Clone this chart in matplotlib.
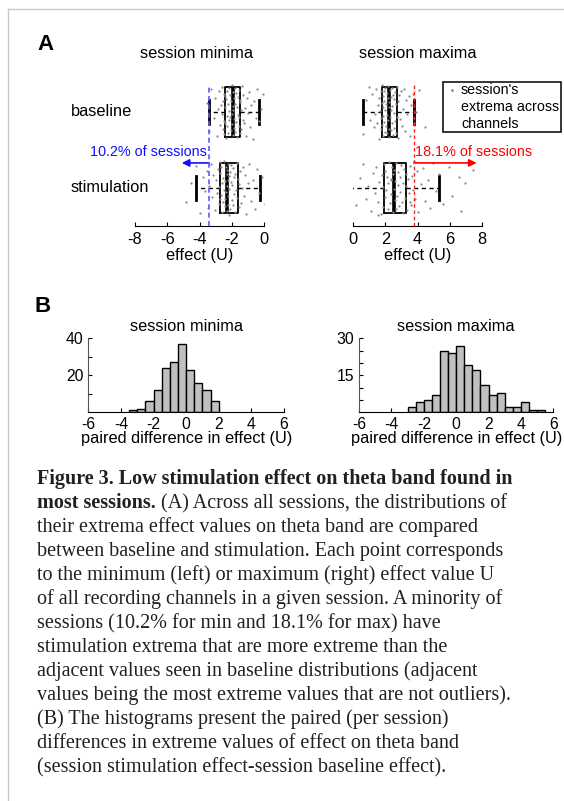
import matplotlib

matplotlib.use("Agg")
import matplotlib.pyplot as plt
from matplotlib.lines import Line2D
from matplotlib.patches import Rectangle

plt.rcParams["font.family"] = ["Liberation Sans", "DejaVu Sans"]
plt.rcParams["axes.unicode_minus"] = False

W, H = 564, 801

# ---- panel A: box summaries ----
groups = ["baseline", "stimulation"]
min_stats = {  # q1, median, q3, lower whisker, upper whisker
    "baseline": (-2.41, -1.93, -1.48, -3.40, -0.32),
    "stimulation": (-2.72, -2.27, -1.64, -4.21, -0.24),
}
max_stats = {
    "baseline": (1.80, 2.23, 2.71, 0.64, 3.78),
    "stimulation": (1.90, 2.57, 3.27, -0.16, 5.31),
}
min_cut, min_pct = -3.40, "10.2% of sessions"
max_cut, max_pct = 3.78, "18.1% of sessions"

# per-session extrema (subset of points read from the cloud)
min_base_x = [-3.56, -3.38, -3.31, -3.12, -3.04, -2.93, -2.88, -2.79, -2.74, -2.68, -2.63, -2.61, -2.57, -2.53, -2.51, -2.47, -2.45, -2.43, -2.42, -2.39,
              -2.37, -2.35, -2.31, -2.29, -2.27, -2.24, -2.21, -2.19, -2.17, -2.14, -2.12, -2.09, -2.07, -2.04, -2.01, -1.99, -1.97, -1.95, -1.94, -1.92,
              -1.90, -1.89, -1.86, -1.84, -1.81, -1.79, -1.77, -1.74, -1.71, -1.69, -1.66, -1.64, -1.61, -1.58, -1.56, -1.53, -1.51, -1.49, -1.47, -1.44,
              -1.41, -1.37, -1.33, -1.29, -1.24, -1.19, -1.13, -1.07, -0.99, -0.93, -0.86, -0.78, -0.69, -0.61, -0.52, -0.43, -0.33, -0.18, -0.04, 0.29]
min_stim_x = [-4.83, -4.52, -4.21, -3.97, -3.81, -3.66, -3.55, -3.47, -3.39, -3.31, -3.22, -3.14, -3.06, -2.99, -2.93, -2.87, -2.82, -2.78, -2.75, -2.73,
              -2.70, -2.67, -2.64, -2.61, -2.58, -2.55, -2.52, -2.49, -2.46, -2.44, -2.41, -2.39, -2.36, -2.34, -2.32, -2.30, -2.29, -2.28, -2.26, -2.25,
              -2.23, -2.21, -2.19, -2.17, -2.14, -2.12, -2.09, -2.06, -2.03, -2.00, -1.97, -1.94, -1.91, -1.88, -1.84, -1.81, -1.77, -1.73, -1.69, -1.66,
              -1.62, -1.58, -1.53, -1.48, -1.43, -1.37, -1.31, -1.24, -1.17, -1.09, -1.01, -0.92, -0.82, -0.71, -0.58, -0.44, -0.29, -0.12, 0.08, 0.41]
max_base_x = [-0.17, 0.64, 0.82, 0.97, 1.08, 1.19, 1.28, 1.36, 1.43, 1.49, 1.55, 1.60, 1.64, 1.68, 1.71, 1.74, 1.76, 1.78, 1.79, 1.81,
              1.83, 1.85, 1.87, 1.89, 1.91, 1.93, 1.95, 1.97, 1.99, 2.01, 2.03, 2.05, 2.08, 2.10, 2.12, 2.14, 2.17, 2.19, 2.21, 2.22,
              2.24, 2.26, 2.28, 2.30, 2.33, 2.35, 2.37, 2.40, 2.42, 2.44, 2.47, 2.49, 2.52, 2.54, 2.57, 2.60, 2.62, 2.65, 2.68, 2.70,
              2.73, 2.77, 2.81, 2.86, 2.91, 2.96, 3.02, 3.08, 3.15, 3.22, 3.29, 3.37, 3.45, 3.53, 3.61, 3.70, 3.78, 3.91, 4.07, 4.49]
max_stim_x = [-0.56, -0.16, 0.18, 0.42, 0.63, 0.81, 0.96, 1.10, 1.22, 1.34, 1.45, 1.55, 1.64, 1.72, 1.79, 1.85, 1.89, 1.92, 1.96, 2.01,
              2.06, 2.11, 2.16, 2.20, 2.25, 2.29, 2.33, 2.37, 2.41, 2.45, 2.49, 2.52, 2.55, 2.58, 2.61, 2.65, 2.69, 2.73, 2.77, 2.81,
              2.85, 2.89, 2.94, 2.98, 3.03, 3.08, 3.13, 3.18, 3.23, 3.27, 3.31, 3.36, 3.42, 3.48, 3.55, 3.61, 3.68, 3.74, 3.79, 3.86,
              3.95, 4.06, 4.19, 4.33, 4.48, 4.63, 4.79, 4.96, 5.14, 5.31, 5.58, 5.97, 6.12, 6.55, 6.68, 6.95, 7.42, 3.52, 2.38, 1.58]
# vertical scatter of each dot around its row (hundredths of a row)
min_base_j = [12, -25, 30, -8, 19, -31, 4, 27, -17, 9, -3, 33, -22, 15, -12, 24, -29, 6, 21, -14,
              -34, 17, -5, 28, -19, 10, -27, 1, 32, -11, 23, -7, 14, -24, 35, -2, -16, 8, -30, 26,
              3, -21, 18, -9, 31, -26, 11, -13, 25, -33, 7, 20, -4, -18, 29, -6, 13, -28, 16, 2,
              -23, 34, -10, 22, -15, 5, -32, 19, -1, 26, -20, 9, -35, 14, -8, 30, -12, 4, 24, -27]
min_stim_j = [-18, 7, 29, -33, 14, -4, 22, -26, 3, 31, -12, 17, -29, 10, -7, 25, -21, 1, 34, -15,
              20, -9, 27, -31, 6, -19, 13, -2, 35, -24, 9, -14, 28, -5, 18, -30, 2, 24, -11, 32,
              -22, 11, -36, 16, -1, 21, -27, 8, 30, -16, 4, -23, 26, -8, 15, -32, 19, -3, 33, -13,
              12, -25, 5, 23, -20, 0, 28, -10, 17, -34, 6, 31, -17, 10, -28, 25, -6, 14, -21, 3]
max_base_j = [5, -29, 16, 33, -11, 24, -20, -2, 30, -14, 9, -35, 19, 1, -23, 27, -8, 12, -17, 35,
              -5, 21, -31, 7, 28, -13, 15, -26, 3, 32, -19, 10, -4, 25, -28, 18, -10, 34, -22, 6,
              -33, 13, 29, -7, 20, -24, 2, 31, -15, 8, -30, 23, -1, 17, -21, 26, -12, 11, -27, 33,
              -6, 14, -34, 22, -9, 27, -18, 4, 30, -25, 16, -3, 21, -32, 9, 24, -14, 0, 29, -20]
max_stim_j = [-9, 26, -22, 13, 32, -15, 3, -30, 20, -6, 28, -18, 8, -34, 17, 1, -25, 31, -12, 23,
              -3, 15, -28, 6, 34, -20, 11, -8, 27, -32, 18, -1, 24, -16, 9, -27, 33, -11, 4, 21,
              -24, 14, -5, 30, -19, 7, -33, 25, -13, 2, 19, -29, 12, -7, 29, -23, 16, -2, 35, -14,
              22, -31, 5, 26, -17, 10, -26, 33, -4, 18, -21, 28, -10, 15, -30, 6, 24, -19, 12, -35]

# ---- panel B: histograms of paired differences (bin width 0.5) ----
bin_w = 0.5
min_hist_start = -3.5
min_hist_counts = [1, 2, 6, 12, 24, 27, 37, 23, 16, 12, 6]
max_hist_start = -3.0
max_hist_counts = [2, 4, 5, 7, 25, 24, 27, 19, 17, 11, 7, 8, 2, 2, 4, 1, 1]

caption_lines = [
    [("Figure 3. Low stimulation effect on theta band found in", "bold")],
    [("most sessions.", "bold"), ("(A) Across all sessions, the distributions of", "normal")],
    [("their extrema effect values on theta band are compared", "normal")],
    [("between baseline and stimulation. Each point corresponds", "normal")],
    [("to the minimum (left) or maximum (right) effect value U", "normal")],
    [("of all recording channels in a given session. A minority of", "normal")],
    [("sessions (10.2% for min and 18.1% for max) have", "normal")],
    [("stimulation extrema that are more extreme than the", "normal")],
    [("adjacent values seen in baseline distributions (adjacent", "normal")],
    [("values being the most extreme values that are not outliers).", "normal")],
    [("(B) The histograms present the paired (per session)", "normal")],
    [("differences in extreme values of effect on theta band", "normal")],
    [("(session stimulation effect-session baseline effect).", "normal")],
]

FS = 11.8
DOT = "#8c8c8c"


def rect(x0, y0, x1, y1):
    return [x0 / W, 1 - y1 / H, (x1 - x0) / W, (y1 - y0) / H]


def fx(px):
    return px / W


def fy(py):
    return 1 - py / H


fig = plt.figure(figsize=(W / 100, H / 100), dpi=100)

# thin grey frame (left and top)
fig.add_artist(Line2D([fx(8), fx(8)], [fy(9), 0], transform=fig.transFigure, color="#c8c8c8", lw=1))
fig.add_artist(Line2D([fx(8), 1], [fy(9), fy(9)], transform=fig.transFigure, color="#c8c8c8", lw=1))

fig.text(fx(37), fy(45), "A", fontsize=16, fontweight="bold", va="center", ha="left")
fig.text(fx(35), fy(306), "B", fontsize=16, fontweight="bold", va="center", ha="left")


def box_panel(ax, stats, xs, js, xlim, xticks):
    rows = {"baseline": 2, "stimulation": 1}
    bstats = []
    for g in groups:
        q1, med, q3, lo, hi = stats[g]
        bstats.append(dict(q1=q1, med=med, q3=q3, whislo=lo, whishi=hi, fliers=[]))
    ax.bxp(bstats, positions=[rows[g] for g in groups], orientation="horizontal",
           widths=0.66, capwidths=0.31, showfliers=False,
           boxprops=dict(color="black", lw=1.3),
           medianprops=dict(color="black", lw=2.6),
           whiskerprops=dict(color="black", lw=1.0, ls=(0, (3, 2.5))),
           capprops=dict(color="black", lw=2.0))
    for g, x, j in zip(groups, xs, js):
        ys = [rows[g] + v / 100 for v in j]
        ax.scatter(x, ys[:len(x)], s=2.6, color=DOT, linewidths=0, zorder=3)
    ax.set_xlim(*xlim)
    ax.set_ylim(0.5, 2.52)
    ax.set_xticks(xticks)
    ax.set_yticks([])
    for s in ("left", "right", "top"):
        ax.spines[s].set_visible(False)
    ax.tick_params(axis="x", direction="in", length=3, labelsize=FS, pad=4)
    ax.set_xlabel("effect (U)", fontsize=FS, labelpad=1)


axA1 = fig.add_axes(rect(135, 72.5, 264, 226))
box_panel(axA1, min_stats, [min_base_x, min_stim_x], [min_base_j, min_stim_j], (-8, 0), [-8, -6, -4, -2, 0])
axA2 = fig.add_axes(rect(353, 72.5, 482, 226))
box_panel(axA2, max_stats, [max_base_x, max_stim_x], [max_base_j, max_stim_j], (0, 8), [0, 2, 4, 6, 8])

fig.text(fx(197), fy(53), "session minima", fontsize=FS, ha="center", va="center")
fig.text(fx(418), fy(53), "session maxima", fontsize=FS, ha="center", va="center")
fig.text(fx(71), fy(112), "baseline", fontsize=FS, ha="left", va="center")
fig.text(fx(71), fy(188), "stimulation", fontsize=FS, ha="left", va="center")

# thresholds + arrows
axA1.plot([min_cut, min_cut], [0.5, 2.33], color="#5a5aff", lw=1.2, ls=(0, (3, 2)), zorder=4, clip_on=False)
axA1.annotate("", xy=(-5.1, 1.33), xytext=(min_cut, 1.33), annotation_clip=False,
              arrowprops=dict(arrowstyle="-|>", color="#1010ff", lw=1.2, mutation_scale=11, shrinkA=0, shrinkB=0))
axA1.text(min_cut - 0.15, 1.47, min_pct, color="#1010ff", fontsize=10.4, ha="right", va="center", clip_on=False)

axA2.plot([max_cut, max_cut], [0.5, 2.39], color="#ff2020", lw=1.0, ls=(0, (2.5, 2)), zorder=4, clip_on=False)
axA2.annotate("", xy=(7.67, 1.33), xytext=(max_cut, 1.33), annotation_clip=False,
              arrowprops=dict(arrowstyle="-|>", color="#ff0000", lw=1.2, mutation_scale=11, shrinkA=0, shrinkB=0))
axA2.text(max_cut + 0.05, 1.47, max_pct, color="#ff0000", fontsize=10.4, ha="left", va="center", clip_on=False)

# legend box drawn by hand
fig.add_artist(Rectangle((fx(443), fy(132)), fx(561) - fx(443), fy(82) - fy(132), transform=fig.transFigure,
                         facecolor="white", edgecolor="black", lw=1.1, zorder=5))
fig.add_artist(Line2D([fx(452)], [fy(90)], transform=fig.transFigure, marker="o", ms=2, color=DOT, mec="none", zorder=6))
for i, t in enumerate(["session's", "extrema across", "channels"]):
    fig.text(fx(461), fy(90 + 17 * i), t, fontsize=10.3, ha="left", va="center", zorder=6)


def hist_panel(ax, start, counts, ymax, yticks, ylabels, title):
    lefts = [start + i * bin_w for i in range(len(counts))]
    ax.bar(lefts, counts, width=bin_w, align="edge", color="#c0c0c0", edgecolor="black", lw=1.0)
    ax.set_xlim(-6, 6)
    ax.set_ylim(0, ymax)
    ax.set_xticks([-6, -4, -2, 0, 2, 4, 6])
    ax.set_yticks(yticks)
    ax.set_yticklabels(ylabels)
    for s in ("right", "top"):
        ax.spines[s].set_visible(False)
    ax.spines["left"].set_color("#555555")
    ax.tick_params(direction="in", length=3, labelsize=11.3, pad=3.5)
    ax.set_xlabel("paired difference in effect (U)", fontsize=FS, labelpad=-1)
    ax.set_title(title, fontsize=FS, pad=5)


axB1 = fig.add_axes(rect(88.3, 338.3, 284, 412.3))
hist_panel(axB1, min_hist_start, min_hist_counts, 40, [10, 20, 30, 40], ["", "20", "", "40"], "session minima")
axB2 = fig.add_axes(rect(359, 338.3, 553.3, 412.3))
hist_panel(axB2, max_hist_start, max_hist_counts, 30, [5, 10, 15, 20, 25, 30], ["", "", "15", "", "", "30"], "session maxima")

# caption
CAP = dict(family=["Liberation Serif", "DejaVu Serif"], fontsize=14.5, color="#231f20")
for i, parts in enumerate(caption_lines):
    y = fy(484 + 24 * i)
    last = None
    for txt, wt in parts:
        if last is None:
            last = fig.text(fx(37), y, txt, fontweight=wt, va="baseline", ha="left", **CAP)
        else:
            # continue the line right after the previous run of text
            last = fig.add_artist(plt.Annotation(txt, xy=(1, 0), xycoords=last, xytext=(4, 0),
                                                 textcoords="offset points", va="bottom", ha="left",
                                                 fontweight=wt, **CAP))

fig.savefig("out.png", dpi=100)
